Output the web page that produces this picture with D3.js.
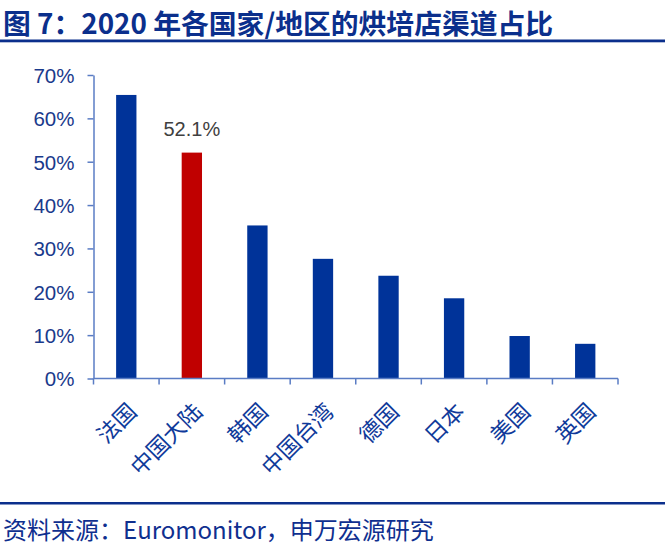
<!DOCTYPE html>
<html><head><meta charset="utf-8">
<script src="https://cdn.jsdelivr.net/npm/d3@7/dist/d3.min.js"></script>
<style>body{margin:0;background:#fff}svg{display:block}</style>
</head><body>
<svg id="c" width="668" height="547"></svg>
<script>
const categories = ["法国","中国大陆","韩国","中国台湾","德国","日本","美国","英国"];
const values = [0.654, 0.521, 0.353, 0.276, 0.237, 0.185, 0.098, 0.080];
const highlight = ["中国大陆"];
const yTicks = [0,0.1,0.2,0.3,0.4,0.5,0.6,0.7];
const labelText = ["52.1%"];

const svg = d3.select("#c");
const cjk = "'Noto Sans CJK SC','Microsoft YaHei',sans-serif";
const latin = "'Liberation Sans',Arial,sans-serif";

// title
svg.append("text").attr("x",3).attr("y",34).attr("font-family",cjk).attr("font-weight","bold")
  .attr("font-size",27.8).attr("fill","#0b2f8c").text("图 7：2020 年各国家/地区的烘培店渠道占比");
svg.append("rect").attr("x",0).attr("y",39.5).attr("width",665).attr("height",2.8).attr("fill","#0b2f8c");

const x = d3.scaleBand().domain(categories).range([93.5,618]).paddingInner(0.69).paddingOuter(0.345);
const y = d3.scaleLinear().domain([0,0.7]).range([378.5,75]);

const axisColor = "#5a7cc4";

// y axis
const ya = svg.append("g").attr("transform","translate(93.5,0)")
  .call(d3.axisLeft(y).tickValues(yTicks).tickFormat(d3.format(".0%")).tickSize(6).tickSizeOuter(0));
ya.select(".domain").attr("stroke",axisColor).attr("stroke-width",1.5);
ya.selectAll(".tick line").attr("stroke",axisColor).attr("stroke-width",1.5);
ya.selectAll(".tick text").attr("font-family",latin).attr("font-size",20.5).attr("fill","#1a3a8c").attr("x",-19).attr("dy","0.36em");

// bars
svg.append("g").selectAll("rect").data(categories).join("rect")
  .attr("x",d=>x(d)).attr("width",x.bandwidth())
  .attr("y",(d,i)=>y(values[i])).attr("height",(d,i)=>y(0)-y(values[i]))
  .attr("fill",d=>highlight.includes(d)?"#c00000":"#003399");

// x axis
const xb = d3.scaleLinear().domain([0,categories.length]).range([93.5,618]);
const xa = svg.append("g").attr("transform","translate(0,378.5)");
xa.append("line").attr("x1",xb(0)).attr("x2",xb(categories.length)).attr("stroke",axisColor).attr("stroke-width",1.5);
xa.selectAll("line.t").data(d3.range(categories.length+1)).join("line").attr("class","t")
  .attr("x1",d=>xb(d)).attr("x2",d=>xb(d)).attr("y1",0).attr("y2",6).attr("stroke",axisColor).attr("stroke-width",1.5);

svg.append("g").selectAll("text").data(categories).join("text")
  .attr("transform",d=>`translate(${x(d)+x.bandwidth()/2+12},${413}) rotate(-45)`)
  .attr("text-anchor","end").attr("font-family",cjk).attr("font-size",22.5).attr("fill","#0f3a9a")
  .text(d=>d);

// data label
const hi = categories.indexOf(highlight[0]);
svg.append("text").attr("x",x(categories[hi])+x.bandwidth()/2).attr("y",y(values[hi])-16.5)
  .attr("text-anchor","middle").attr("font-family",latin).attr("font-size",20).attr("fill","#404040").text(labelText[0]);

// footer
svg.append("rect").attr("x",0).attr("y",502).attr("width",665).attr("height",2.5).attr("fill","#0b2f8c");
svg.append("text").attr("x",3).attr("y",539).attr("font-family",cjk).attr("font-size",24).attr("fill","#0f2f8f")
  .text("资料来源：Euromonitor，申万宏源研究");
</script>
</body></html>
